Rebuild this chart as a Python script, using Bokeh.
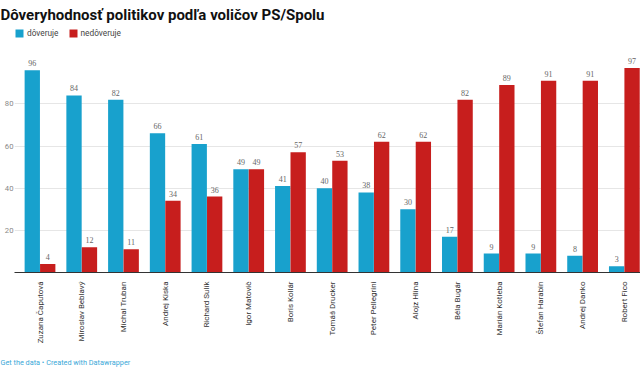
from bokeh.plotting import figure
from bokeh.models import (ColumnDataSource, Range1d, FixedTicker, LabelSet, Title,
                          Legend, LegendItem)
from bokeh.embed import file_html
from bokeh.resources import INLINE

names = ["Zuzana Čaputová", "Miroslav Beblavý", "Michal Truban", "Andrej Kiska",
         "Richard Sulík", "Igor Matovič", "Boris Kollár", "Tomáš Drucker",
         "Peter Pellegrini", "Alojz Hlina", "Béla Bugár", "Marián Kotleba",
         "Štefan Harabin", "Andrej Danko", "Robert Fico"]
doveruje = [96, 84, 82, 66, 61, 49, 41, 40, 38, 30, 17, 9, 9, 8, 3]
nedoveruje = [4, 12, 11, 34, 36, 49, 57, 53, 62, 62, 82, 89, 91, 91, 97]
y_ticks = [20, 40, 60, 80]
series_names = ["dôveruje", "nedôveruje"]

BLUE = "#18a1cd"
RED = "#c71e1d"
FONT = "Roboto"

idx = list(range(len(names)))
off = 0.185
src_b = ColumnDataSource(dict(x=[i - off for i in idx], y=doveruje,
                              t=[str(v) for v in doveruje]))
src_r = ColumnDataSource(dict(x=[i + off for i in idx], y=nedoveruje,
                              t=[str(v) for v in nedoveruje]))

p = figure(width=640, height=376, output_backend="svg", toolbar_location=None,
           x_range=Range1d(-0.611, 14.387), y_range=Range1d(0, 116.7),
           min_border_left=14, min_border_right=0, min_border_top=24,
           min_border_bottom=101, outline_line_color=None)

rb = p.vbar(x="x", top="y", width=0.367, source=src_b, color=BLUE, line_color=None)
rr = p.vbar(x="x", top="y", width=0.367, source=src_r, color=RED, line_color=None)

for src in (src_b, src_r):
    p.add_layout(LabelSet(x="x", y="y", text="t", source=src, y_offset=4,
                          text_align="center", text_baseline="bottom",
                          text_font=FONT, text_font_size="8px",
                          text_color="#666666"))

# axes
p.xaxis.ticker = FixedTicker(ticks=idx)
p.xaxis.major_label_overrides = {i: n for i, n in enumerate(names)}
p.xaxis.major_label_orientation = 3.14159265 / 2
p.xaxis.major_label_text_font = FONT
p.xaxis.major_label_text_font_size = "8px"
p.xaxis.major_label_text_color = "#333333"
p.xaxis.major_tick_line_color = None
p.xaxis.major_tick_out = 0
p.xaxis.major_tick_in = 0
p.xaxis.minor_tick_line_color = None
p.xaxis.minor_tick_out = 0
p.xaxis.axis_line_color = "#333333"
p.xaxis.major_label_standoff = 9

p.yaxis.ticker = FixedTicker(ticks=y_ticks)
p.yaxis.axis_line_color = None
p.yaxis.major_tick_line_color = None
p.yaxis.major_tick_out = 0
p.yaxis.major_tick_in = 0
p.yaxis.minor_tick_line_color = None
p.yaxis.minor_tick_out = 0
p.yaxis.major_label_text_font = FONT
p.yaxis.major_label_text_font_size = "7.7px"
p.yaxis.major_label_text_color = "#888888"
p.yaxis.major_label_standoff = 1

p.xgrid.grid_line_color = None
p.ygrid.ticker = FixedTicker(ticks=y_ticks)
p.ygrid.grid_line_color = "#e6e6e6"

# legend (inside the frame, top-left)
legend = Legend(items=[LegendItem(label=series_names[0], renderers=[rb]),
                       LegendItem(label=series_names[1], renderers=[rr])],
                orientation="horizontal", location=(0, 234),
                glyph_width=10, glyph_height=10, label_standoff=3, spacing=9,
                padding=0, margin=0, border_line_color=None,
                background_fill_alpha=0, label_text_font=FONT,
                label_text_font_size="8.3px", label_text_color="#444444")
p.add_layout(legend)

# title
p.title.text = "Dôveryhodnosť politikov podľa voličov PS/Spolu"
p.title.text_font = FONT
p.title.text_font_style = "bold"
p.title.text_font_size = "15px"
p.title.text_color = "#111111"
p.title.align = "left"
p.title.offset = -14
p.title.standoff = 6

# footer
p.add_layout(Title(text="Get the data • Created with Datawrapper",
                   text_font=FONT, text_font_size="7.3px", text_font_style="normal",
                   text_color="#3aa8d8", offset=-14, standoff=19), "below")

open("out.html", "w").write(file_html(p, INLINE))
